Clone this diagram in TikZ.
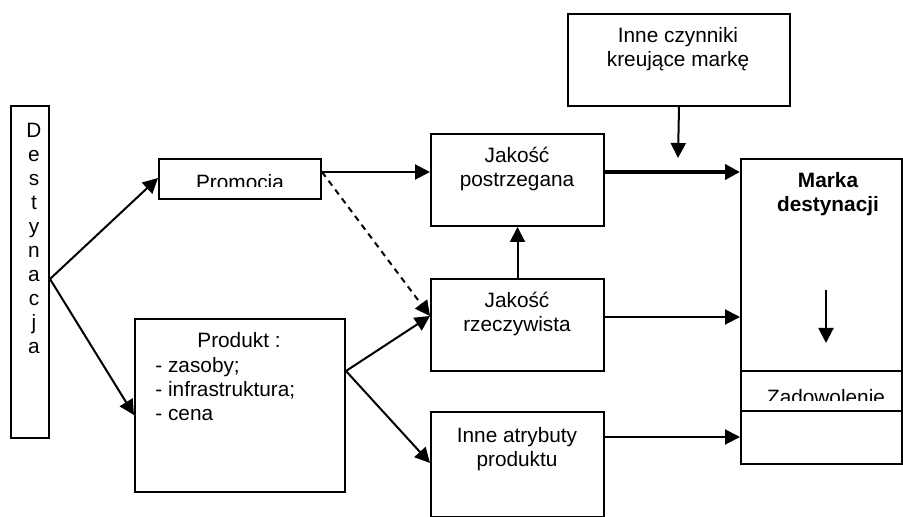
\documentclass[tikz,border=0pt]{standalone}
\usepackage{fontspec}
\setmainfont{Liberation Sans}
\usetikzlibrary{arrows.meta}
\newcommand\tabc[1]{\begin{tabular}[t]{@{}c@{}}#1\end{tabular}}
\newcommand\tabl[1]{\begin{tabular}[t]{@{}l@{}}#1\end{tabular}}
\begin{document}
\begin{tikzpicture}[x=0.5pt,y=-0.5pt,
  box/.style={draw, line width=1pt, inner sep=0pt, anchor=north west},
  txt/.style={inner sep=0pt, anchor=base, font=\fontsize{10.4}{12}\selectfont},
  arr/.style={line width=1pt, -{Triangle[length=7.5pt,width=7.5pt]}},
  thickarr/.style={line width=2pt, -{Triangle[length=7.5pt,width=7.5pt]}},
  dasharr/.style={line width=1pt, dash pattern=on 3pt off 2.5pt, -{Triangle[length=7.5pt,width=7.5pt]}},
]
\useasboundingbox (0,0) rectangle (903,517);

% boxes
\node[box, minimum width=19pt, minimum height=166pt] (dest) at (10,105) {};
\node[box, minimum width=81pt, minimum height=20pt] (promo) at (158,158) {};
\node[box, minimum width=86.5pt, minimum height=46pt] (jp) at (430,133) {};
\node[box, minimum width=86.5pt, minimum height=46pt] (jr) at (430,278) {};
\node[box, minimum width=86.5pt, minimum height=52.5pt] (ia) at (430,411) {};
\node[box, minimum width=105pt, minimum height=86.5pt] (prod) at (134,318) {};
\node[box, minimum width=111pt, minimum height=46pt] (ic) at (567,13) {};
\node[box, minimum width=80.5pt, minimum height=152.5pt] (marka) at (740,158) {};

% separators in Marka box
\draw[line width=1pt] (marka.west |- 0,371) -- (marka.east |- 0,371);
\draw[line width=1pt] (marka.west |- 0,411) -- (marka.east |- 0,411);

% texts
\node[txt] (destt) at (34,138) {\tabc{D\\e\\s\\t\\y\\n\\a\\c\\j\\a}};
\begin{scope}
  \clip (158,158) rectangle (320,187);
  \node[txt] (promot) at (240,190) {Promocia};
\end{scope}
\node[txt] (jpt) at (517,163) {\tabc{Jakość\\postrzegana}};
\node[txt] (jrt) at (517,308) {\tabc{Jakość\\rzeczywista}};
\node[txt] (iat) at (517,442) {\tabc{Inne atrybuty\\produktu}};
\node[txt] (ict) at (678,43) {\tabc{Inne czynniki\\kreujące markę}};
\node[txt, font=\fontsize{10.4}{12}\selectfont\bfseries] (markat) at (828,188) {\tabc{Marka\\destynacji}};
\begin{scope}
  \clip (740,371) rectangle (901,401);
  \node[txt] (zadt) at (826,404) {Zadowolenie};
\end{scope}
\node[txt] (prodt) at (239,348) {Produkt :};
\node[txt, anchor=base west] (prodl) at (155,372) {\tabl{- zasoby;\\- infrastruktura;\\- cena}};

% connectors
\draw[arr] (dest.east |- 0,279) -- (promo.west |- 0,178);
\draw[arr] (dest.east |- 0,279) -- (prod.west |- 0,415);
\draw[arr] (promo.east |- 0,172) -- (jp.west |- 0,172);
\draw[dasharr] (promo.east |- 0,172) -- (jr.west |- 0,316);
\draw[arr] (prod.east |- 0,371) -- (jr.west |- 0,316);
\draw[arr] (prod.east |- 0,371) -- (ia.west |- 0,463);
\draw[arr] (jr.north) -- (jp.south);
\draw[thickarr] (jp.east |- 0,172) -- (marka.west |- 0,172);
\draw[arr] (jr.east |- 0,317) -- (marka.west |- 0,317);
\draw[arr] (ia.east |- 0,437) -- (marka.west |- 0,437);
\coordinate (icend) at (678,158);
\draw[arr] (ic.south) -- (icend);
\coordinate (inA) at (826,290);
\coordinate (inB) at (826,343);
\draw[arr] (inA) -- (inB);
\end{tikzpicture}
\end{document}
